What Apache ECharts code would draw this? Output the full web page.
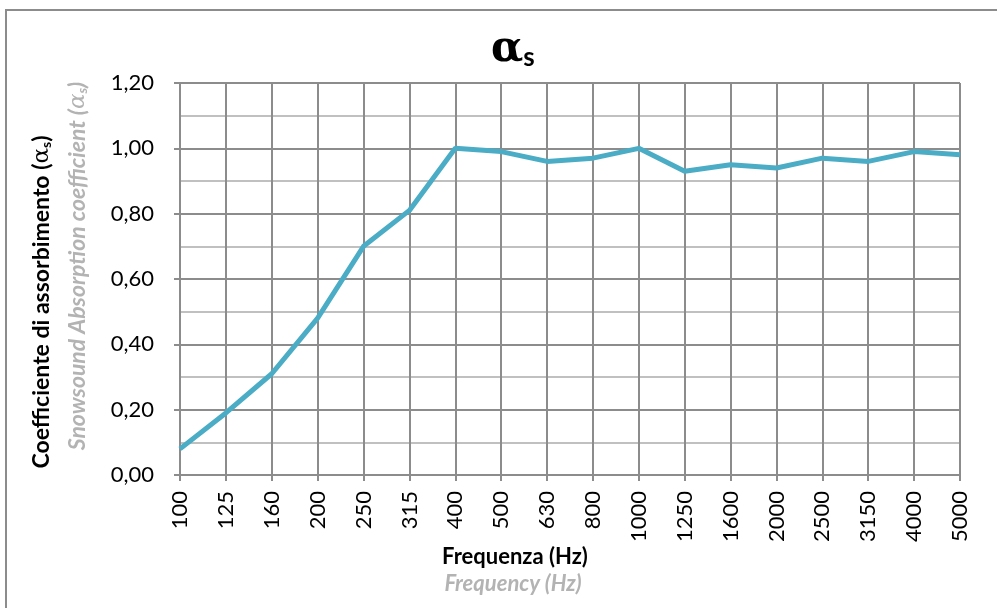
<!DOCTYPE html>
<html>
<head>
<meta charset="utf-8">
<script src="https://cdn.jsdelivr.net/npm/echarts@6/dist/echarts.min.js"></script>
<style>html,body{margin:0;padding:0;background:#fff}#c{width:997px;height:608px}</style>
</head>
<body>
<div id="c"></div>
<script>
var categories = ['100','125','160','200','250','315','400','500','630','800','1000','1250','1600','2000','2500','3150','4000','5000'];
var values = [0.08,0.19,0.31,0.48,0.70,0.81,1.00,0.99,0.96,0.97,1.00,0.93,0.95,0.94,0.97,0.96,0.99,0.98];
var yTicks = [0,0.2,0.4,0.6,0.8,1.0,1.2];

var FONT = 'Lato';
var chart = echarts.init(document.getElementById('c'));
chart.setOption({
  animation: false,
  backgroundColor: '#fff',
  title: {
    text: '{a|α}{s|s}',
    left: 486, top: 24,
    textStyle: {
      rich: {
        a: {fontSize: 42, fontWeight: 'bold', fontFamily: 'DejaVu Serif', color: '#000'},
        s: {fontSize: 26, fontWeight: 'bold', fontFamily: FONT, color: '#000', padding: [16,0,0,0]}
      }
    }
  },
  grid: {left: 180, right: 37, top: 83, bottom: 133, containLabel: false},
  xAxis: {
    type: 'category',
    data: categories,
    boundaryGap: false,
    axisLine: {lineStyle: {color: '#8c8c8c', width: 2}},
    axisTick: {show: true, length: 6, alignWithLabel: true, lineStyle: {color: '#8c8c8c', width: 2}},
    axisLabel: {rotate: 90, fontSize: 22, fontFamily: FONT, color: '#000', margin: 16, interval: 0},
    splitLine: {show: true, lineStyle: {color: '#8c8c8c', width: 2}}
  },
  yAxis: {
    type: 'value',
    min: 0, max: 1.2, interval: 0.2,
    axisLine: {show: true, lineStyle: {color: '#8c8c8c', width: 2}},
    axisTick: {show: true, length: 6, lineStyle: {color: '#8c8c8c', width: 2}},
    axisLabel: {fontSize: 22, fontFamily: FONT, color: '#000', margin: 26,
      formatter: function (v) { return v.toFixed(2).replace('.', ','); }},
    splitLine: {show: true, lineStyle: {color: '#8c8c8c', width: 2}},
    minorTick: {show: false, splitNumber: 2},
    minorSplitLine: {show: true, lineStyle: {color: '#c0c0c0', width: 2}}
  },
  series: [{
    type: 'line',
    data: values,
    showSymbol: false,
    symbol: 'none',
    lineStyle: {color: '#4bacc6', width: 5},
    z: 5
  }],
  graphic: [
    {type: 'rect', shape: {x: 6, y: 10, width: 1100, height: 700}, style: {fill: 'none', stroke: '#8c8c8c', lineWidth: 2}, silent: true, z: -1},
    {type: 'text', x: 42, y: 302, rotation: Math.PI / 2,
      style: {text: '{t|Coefficiente di assorbimento (}{a|α}{s|s}{t|)}', align: 'center', verticalAlign: 'middle',
        rich: {t: {fontSize: 23, fontWeight: 'bold', fontFamily: FONT, fill: '#000'},
               a: {fontSize: 23, fontFamily: 'DejaVu Serif', fill: '#000'},
               s: {fontSize: 14, fontWeight: 'bold', fontFamily: FONT, fill: '#000', padding: [9,0,0,0]}}}},
    {type: 'text', x: 78, y: 266, rotation: Math.PI / 2,
      style: {text: '{t|Snowsound Absorption coefficient (}{a|α}{s|s}{t|)}', align: 'center', verticalAlign: 'middle',
        rich: {t: {fontSize: 23, fontWeight: 'bold', fontStyle: 'italic', fontFamily: FONT, fill: '#b3b3b3'},
               a: {fontSize: 23, fontStyle: 'italic', fontFamily: 'DejaVu Serif', fill: '#b3b3b3'},
               s: {fontSize: 14, fontWeight: 'bold', fontStyle: 'italic', fontFamily: FONT, fill: '#b3b3b3', padding: [9,0,0,0]}}}},
    {type: 'text', x: 515, y: 557,
      style: {text: 'Frequenza (Hz)', align: 'center', verticalAlign: 'middle', fontSize: 22, fontWeight: 'bold', fontFamily: FONT, fill: '#000'}},
    {type: 'text', x: 513, y: 584,
      style: {text: 'Frequency (Hz)', align: 'center', verticalAlign: 'middle', fontSize: 22, fontWeight: 'bold', fontStyle: 'italic', fontFamily: FONT, fill: '#b3b3b3'}}
  ]
});
</script>
</body>
</html>
